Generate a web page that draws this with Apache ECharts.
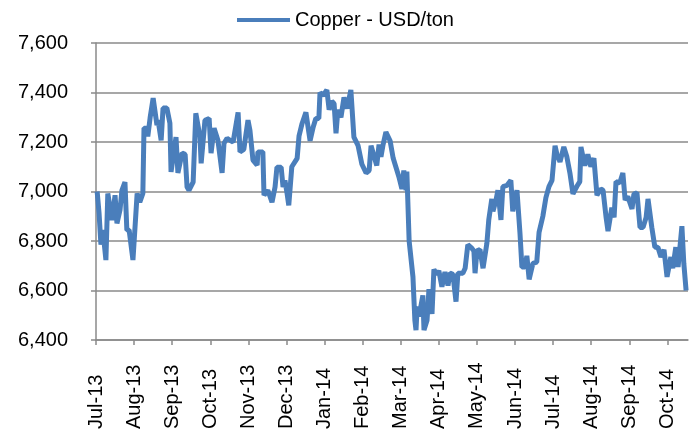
<!DOCTYPE html>
<html>
<head>
<meta charset="utf-8">
<script src="https://cdn.jsdelivr.net/npm/echarts@6/dist/echarts.min.js"></script>
<style>
html, body { margin: 0; padding: 0; background: #fff; }
#main { width: 693px; height: 440px; }
</style>
</head>
<body>
<div id="main"></div>
<script>
// month labels, one per tick (tick k = start of month k after Jul-13)
var monthLabels = ['Jul-13', 'Aug-13', 'Sep-13', 'Oct-13', 'Nov-13', 'Dec-13', 'Jan-14', 'Feb-14',
	'Mar-14', 'Apr-14', 'May-14', 'Jun-14', 'Jul-14', 'Aug-14', 'Sep-14', 'Oct-14'];

// position of each price, in months since 1 Jul 2013
var tMonths = [
	0.03, 0.08, 0.13, 0.18, 0.26, 0.31, 0.42, 0.50, 0.55, 0.63,
	0.68, 0.76, 0.81, 0.87, 0.97, 1.08, 1.15, 1.23, 1.26, 1.34,
	1.36, 1.42, 1.50, 1.60, 1.63, 1.71, 1.76, 1.86, 1.94, 1.97,
	2.10, 2.15, 2.26, 2.34, 2.39, 2.44, 2.55, 2.62, 2.73, 2.76,
	2.86, 2.97, 3.02, 3.10, 3.20, 3.31, 3.36, 3.44, 3.52, 3.60,
	3.73, 3.78, 3.88, 3.99, 4.04, 4.12, 4.23, 4.25, 4.38, 4.41,
	4.51, 4.62, 4.70, 4.75, 4.86, 4.91, 4.96, 5.01, 5.06, 5.09,
	5.14, 5.28, 5.33, 5.41, 5.51, 5.62, 5.70, 5.77, 5.85, 5.88,
	5.96, 6.06, 6.12, 6.19, 6.25, 6.30, 6.35, 6.43, 6.51, 6.59,
	6.69, 6.77, 6.88, 6.98, 7.09, 7.17, 7.22, 7.27, 7.37, 7.43,
	7.48, 7.53, 7.61, 7.72, 7.80, 7.87, 7.95, 8.03, 8.08, 8.14,
	8.16, 8.22, 8.32, 8.37, 8.40, 8.43, 8.48, 8.58, 8.61, 8.69,
	8.74, 8.82, 8.87, 8.95, 9.00, 9.08, 9.16, 9.24, 9.29, 9.37,
	9.45, 9.50, 9.63, 9.69, 9.76, 9.87, 9.92, 9.95, 10.00, 10.08,
	10.16, 10.26, 10.31, 10.39, 10.42, 10.50, 10.55, 10.63, 10.68, 10.79,
	10.89, 10.94, 11.05, 11.13, 11.18, 11.26, 11.31, 11.37, 11.47, 11.57,
	11.63, 11.73, 11.81, 11.89, 11.97, 12.05, 12.10, 12.18, 12.28, 12.36,
	12.44, 12.52, 12.62, 12.70, 12.73, 12.83, 12.91, 12.99, 13.07, 13.15,
	13.25, 13.31, 13.39, 13.44, 13.54, 13.60, 13.65, 13.75, 13.83, 13.89,
	13.96, 14.07, 14.12, 14.20, 14.28, 14.36, 14.44, 14.49, 14.59, 14.67,
	14.75, 14.83, 14.91, 14.99, 15.09, 15.14, 15.22, 15.28, 15.38, 15.43,
	15.49
];

// copper price, USD/ton
var prices = [
	7000, 6913, 6785, 6844, 6723, 6992, 6884, 6985, 6871, 6925,
	7005, 7038, 6844, 6844, 6723, 6992, 6957, 6992, 7256, 7256,
	7222, 7297, 7377, 7268, 7288, 7207, 7337, 7337, 7276, 7079,
	7220, 7075, 7155, 7150, 7018, 7005, 7038, 7316, 7220, 7114,
	7288, 7295, 7155, 7256, 7207, 7075, 7195, 7215, 7207, 7200,
	7320, 7160, 7170, 7288, 7248, 7127, 7107, 7160, 7160, 6985,
	7005, 6957, 7018, 7098, 7098, 7018, 7045, 6998, 6944, 6950,
	7100, 7134, 7225, 7275, 7320, 7205, 7260, 7295, 7295, 7400,
	7388, 7410, 7330, 7365, 7355, 7235, 7330, 7300, 7380, 7335,
	7410, 7220, 7185, 7110, 7075, 7085, 7185, 7190, 7105, 7190,
	7140, 7185, 7240, 7205, 7135, 7100, 7060, 7010, 7085, 7005,
	7080, 6800, 6655, 6480, 6440, 6535, 6495, 6580, 6440, 6480,
	6605, 6505, 6685, 6665, 6680, 6615, 6675, 6620, 6670, 6665,
	6555, 6670, 6670, 6690, 6785, 6770, 6760, 6670, 6760, 6765,
	6690, 6790, 6885, 6970, 6920, 6965, 7005, 6885, 7020, 7025,
	7045, 6920, 7005, 6830, 6695, 6695, 6740, 6645, 6710, 6715,
	6835, 6900, 6975, 7020, 7045, 7185, 7150, 7120, 7180, 7140,
	7075, 6990, 7020, 7040, 7180, 7105, 7150, 7100, 7135, 6985,
	7010, 7005, 6895, 6840, 6935, 6895, 7040, 7035, 7075, 6965,
	6980, 6930, 6990, 6995, 6855, 6855, 6895, 6970, 6855, 6775,
	6775, 6735, 6765, 6655, 6735, 6690, 6775, 6695, 6860, 6710,
	6600
];

var yTicks = [6400, 6600, 6800, 7000, 7200, 7400, 7600];

var fontFamily = '"Liberation Sans", Arial, sans-serif';
var gray = '#8a8a8a';
var blue = '#4A7EBB';

var monthTicks = monthLabels.map(function(m, i) { return i; });
var seriesData = tMonths.map(function(t, i) { return [t, prices[i]]; });

var chart = echarts.init(document.getElementById('main'));
var option = {
	animation: false,
	textStyle: { fontFamily: fontFamily },
	legend: {
		data: ['Copper - USD/ton'],
		top: 5,
		left: 232,
		icon: 'rect',
		itemWidth: 53,
		itemHeight: 4,
		itemGap: 5,
		itemStyle: { color: blue },
		textStyle: { fontSize: 20, color: '#000', fontFamily: fontFamily }
	},
	grid: {
		left: 96,
		right: 5,
		top: 43,
		bottom: 100,
		outerBoundsMode: 'none'
	},
	xAxis: {
		type: 'value',
		min: 0,
		max: 15.54,
		interval: 1,
		axisLine: { show: true, onZero: false, lineStyle: { color: gray, width: 1.5 } },
		axisTick: { show: true, length: 5, customValues: monthTicks, lineStyle: { color: gray, width: 1.5 } },
		splitLine: { show: false },
		axisLabel: {
			customValues: monthTicks,
			rotate: 90,
			align: 'left',
			verticalAlign: 'middle',
			margin: 89,
			fontSize: 20,
			color: '#000',
			fontFamily: fontFamily,
			formatter: function(v) { return monthLabels[Math.round(v)] || ''; }
		}
	},
	yAxis: {
		type: 'value',
		min: yTicks[0],
		max: yTicks[yTicks.length - 1],
		interval: 200,
		axisLine: { show: true, lineStyle: { color: gray, width: 1.5 } },
		axisTick: { show: true, length: 5, lineStyle: { color: gray, width: 1.5 } },
		splitLine: { show: true, lineStyle: { color: gray, width: 1.5 } },
		axisLabel: {
			margin: 28,
			fontSize: 20,
			color: '#000',
			fontFamily: fontFamily,
			formatter: function(v) { return echarts.format.addCommas(v); }
		}
	},
	series: [{
		name: 'Copper - USD/ton',
		type: 'line',
		symbol: 'none',
		data: seriesData,
		lineStyle: { color: blue, width: 5 },
		itemStyle: { color: blue }
	}]
};
chart.setOption(option);
</script>
</body>
</html>
